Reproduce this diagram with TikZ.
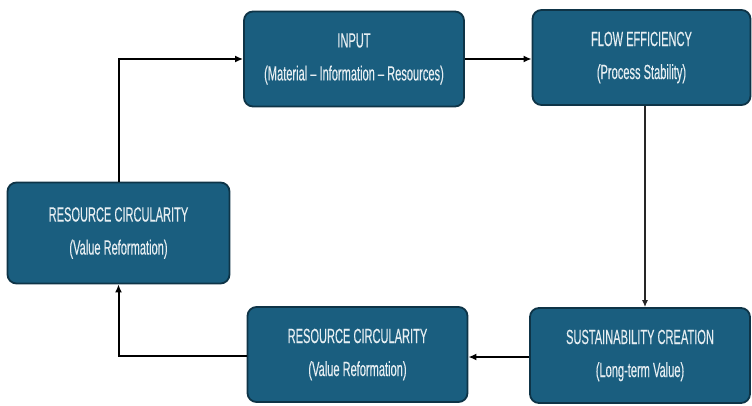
\documentclass[tikz,border=0pt]{standalone}
\usepackage{fontspec}
\usetikzlibrary{arrows.meta}
\newfontfamily\boxfont{Liberation Sans}[FakeStretch=0.54, FakeBold=0.2]
\definecolor{boxfill}{HTML}{1A5E7F}
\definecolor{boxline}{HTML}{0E3447}
\definecolor{boxtext}{HTML}{E6EEF2}
\begin{document}
\begin{tikzpicture}[x=1pt,y=-1pt,
  stagebox/.style={draw=boxline, line width=1.8pt, fill=boxfill, rounded corners=9pt,
    text=boxtext, align=center, font=\boxfont\fontsize{20.5}{33}\selectfont,
    minimum width=220pt, minimum height=95pt, inner sep=0pt},
  flowline/.style={draw=black, line width=2pt, -{Latex[length=8pt,width=7pt]}},
  thinline/.style={draw=black!85, line width=1.2pt, -{Latex[length=7pt,width=6pt]}}]
\useasboundingbox (0,0) rectangle (752,405);
\node[stagebox] (inp) at (354,59) {INPUT\\(Material – Information – Resources)};
\node[stagebox, minimum width=218pt] (flow) at (641.5,57.5) {FLOW EFFICIENCY\\(Process Stability)};
\node[stagebox, minimum width=222pt, minimum height=101pt] (left) at (118.5,233) {RESOURCE CIRCULARITY\\(Value Reformation)};
\node[stagebox] (bot) at (357.5,354.5) {RESOURCE CIRCULARITY\\(Value Reformation)};
\node[stagebox] (sus) at (640,355.5) {SUSTAINABILITY CREATION\\(Long-term Value)};
\coordinate (fdown) at ([xshift=3.5pt]flow.south);
\draw[flowline] (left.north) |- (inp.west);
\draw[flowline, line width=2.5pt] (inp.east) -- (inp.east -| flow.west);
\draw[thinline] (fdown) -- (fdown |- sus.north);
\draw[flowline, line width=2.5pt] ([yshift=-1.5pt]sus.west) -- ([yshift=-1.5pt]sus.west -| bot.east);
\draw[flowline] ([yshift=-1.5pt]bot.west) -| (left.south);
\end{tikzpicture}
\end{document}
